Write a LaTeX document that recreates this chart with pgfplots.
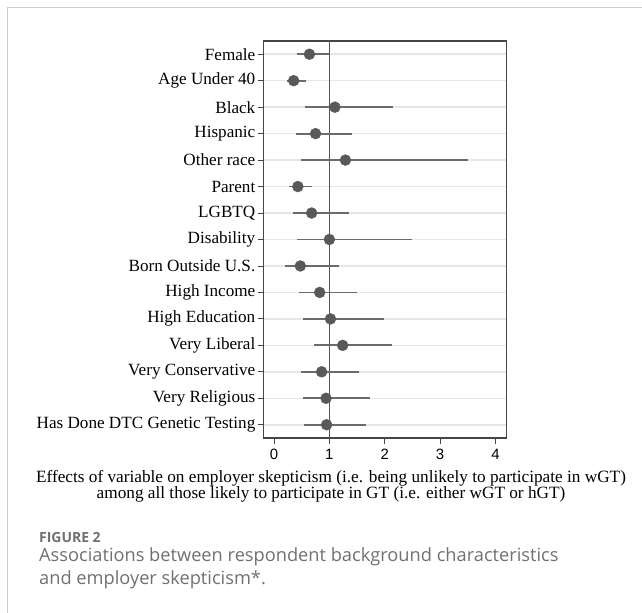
\documentclass[border=0pt]{standalone}
\usepackage{fontspec}
\setmainfont{Liberation Serif}
\newfontfamily\sansnum{Liberation Sans}
\newfontfamily\capfont{Open Sans}
\usepackage{pgfplots}
\usepackage{pgfplotstable}
\pgfplotsset{compat=1.18}
\definecolor{framegray}{HTML}{CDCDCD}
\definecolor{axisgray}{HTML}{454545}
\definecolor{dotgray}{HTML}{595959}
\definecolor{errgray}{HTML}{6B6B6B}
\definecolor{refgray}{HTML}{555555}
\definecolor{gridgray}{HTML}{E6E6E6}
\definecolor{capgray}{HTML}{707070}

\pgfplotstableread{
y   x      em     ep
1   0.64   0.23   0.36
2   0.355  0.125  0.225
3   1.10   0.54   1.05
4   0.75   0.35   0.65
5   1.29   0.81   2.22
6   0.43   0.16   0.26
7   0.68   0.33   0.67
8   1.00   0.59   1.50
9   0.475  0.275  0.705
10  0.825  0.365  0.675
11  1.02   0.50   0.96
12  1.24   0.52   0.90
13  0.86   0.37   0.67
14  0.94   0.42   0.79
15  0.95   0.40   0.71
}\effects

\begin{document}
\begin{tikzpicture}[x=1bp,y=1bp]
\useasboundingbox (0,0) rectangle (642,613);
\draw[framegray, line width=1.2bp] (7.3,0) -- (7.3,605.5) -- (642,605.5);
\begin{axis}[
  at={(263.5bp,175bp)}, anchor=south west,
  scale only axis, width=243bp, height=397bp,
  xmin=-0.19, xmax=4.2, ymin=0.5, ymax=15.5, y dir=reverse,
  xtick={0,1,2,3,4},
  ytick={1,...,15},
  yticklabels={Female, Age Under 40, Black, Hispanic, Other race, Parent, LGBTQ, Disability, Born Outside U.S., High Income, High Education, Very Liberal, Very Conservative, Very Religious, Has Done DTC Genetic Testing},
  /pgf/number format/assume math mode=true,
  tick pos=left, tick align=outside, major tick length=6bp,
  tick style={axisgray, line width=0.8bp},
  axis line style={axisgray, line width=1.1bp},
  ymajorgrids, grid style={gridgray, line width=1.5bp},
  yticklabel style={font=\fontsize{17.2}{19}\selectfont, inner sep=2bp},
  xticklabel style={font=\sansnum\fontsize{15}{17}\selectfont, inner sep=0bp, yshift=-5bp},
  clip=false,
]
\addplot[refgray, line width=1.5bp] coordinates {(1,0.5) (1,15.5)};
\addplot[only marks, mark=*, mark size=5.5,
  mark options={fill=dotgray, draw=dotgray},
  error bars/.cd, x dir=both, x explicit, error mark=none,
  error bar style={errgray, line width=1.8bp}]
  table[x=x, y=y, x error plus=ep, x error minus=em] {\effects};
\end{axis}
\node[anchor=base, inner sep=0] at (331,130) {\fontsize{17.3}{19}\selectfont Effects of variable on employer skepticism (i.e. being unlikely to participate in wGT)};
\node[anchor=base, inner sep=0] at (331,114) {\fontsize{17.3}{19}\selectfont among all those likely to participate in GT (i.e. either wGT or hGT)};
\node[anchor=base west, inner sep=0, text=capgray] at (39,70) {\capfont\bfseries\fontsize{14}{16}\selectfont FIGURE 2};
\node[anchor=base west, inner sep=0, text=capgray] at (39,51) {\capfont\fontsize{18.3}{20}\selectfont Associations between respondent background characteristics};
\node[anchor=base west, inner sep=0, text=capgray] at (39,28) {\capfont\fontsize{18.3}{20}\selectfont and employer skepticism*.};
\end{tikzpicture}
\end{document}
